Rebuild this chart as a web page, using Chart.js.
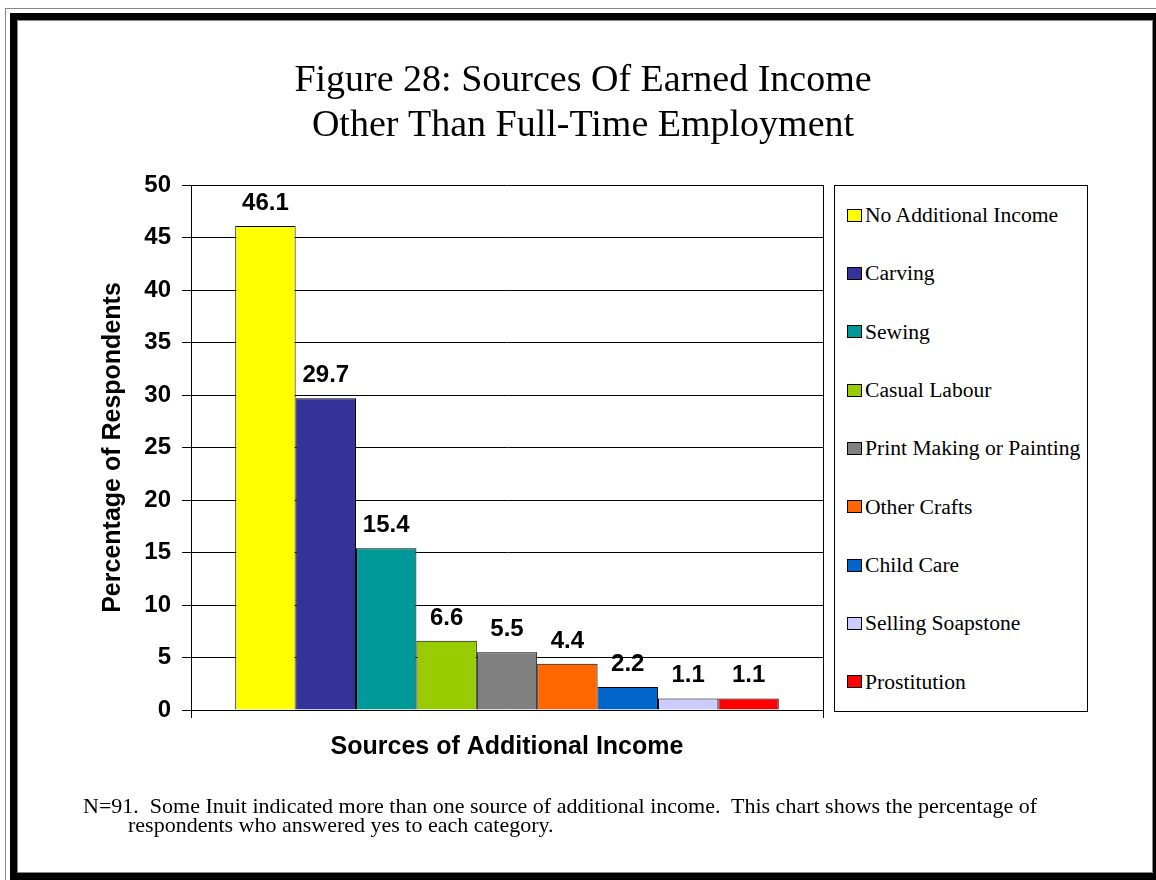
<!DOCTYPE html>
<html>
<head>
<meta charset="utf-8">
<script src="https://cdn.jsdelivr.net/npm/chart.js@4.4.1/dist/chart.umd.min.js"></script>
<style>
  html, body { margin: 0; padding: 0; width: 1156px; height: 880px; overflow: hidden; background: #fff; }
  #myChart { position: absolute; left: 0; top: 0; }
  .frame { position: absolute; box-sizing: border-box; pointer-events: none; }
  #frameOuter { left: 5px; top: 8px; width: 1200px; height: 1000px; border: 1px solid #888; }
  #frameBlack { left: 10px; top: 13px; width: 1150px; height: 867px; border: 7px solid #000; }
  #frameInner { left: 17px; top: 20px; width: 1136px; height: 853px; border: 1px solid #888; }
  #legend {
    position: absolute; left: 834px; top: 185px; width: 254px; height: 527px;
    box-sizing: border-box; border: 1px solid #000; background: #fff;
  }
  #legend ul {
    list-style: none; margin: 0; padding: 0 0 0 12px; height: 100%;
    display: flex; flex-direction: column; justify-content: space-around;
  }
  #legend li {
    display: flex; align-items: center; white-space: nowrap;
    font-family: "Liberation Serif", "Times New Roman", serif; font-size: 21.6px; line-height: 24px; color: #000;
  }
  #legend li span.box {
    display: inline-block; width: 15px; height: 13px; box-sizing: border-box;
    border: 1px solid #000; margin-right: 3px;
  }
  #note {
    position: absolute; left: 83px; top: 796px; white-space: pre;
    font-family: "Liberation Serif", "Times New Roman", serif; font-size: 22px; line-height: 19px; color: #000;
  }
  #note .second { padding-left: 45px; }
</style>
</head>
<body>
<canvas id="myChart" width="1156" height="880"></canvas>
<div id="legend"></div>
<div id="note"><div>N=91.  Some Inuit indicated more than one source of additional income.  This chart shows the percentage of</div><div class="second">respondents who answered yes to each category.</div></div>
<div class="frame" id="frameOuter"></div>
<div class="frame" id="frameBlack"></div>
<div class="frame" id="frameInner"></div>

<script>
// data
var titleLines = ['Figure 28: Sources Of Earned Income', 'Other Than Full-Time Employment'];
var sources = ['No Additional Income', 'Carving', 'Sewing', 'Casual Labour', 'Print Making or Painting',
               'Other Crafts', 'Child Care', 'Selling Soapstone', 'Prostitution'];
var percentages = [46.1, 29.7, 15.4, 6.6, 5.5, 4.4, 2.2, 1.1, 1.1];
var barColours = ['#ffff00', '#333399', '#009999', '#99cc00', '#808080',
                  '#ff6600', '#0066cc', '#ccccff', '#ff0000'];
var categories = [''];
var yMin = 0, yMax = 50, yStep = 5;

var arialBold = { family: '"Liberation Sans", Arial, sans-serif', size: 24, weight: 'bold' };
var arialBoldTitle = { family: '"Liberation Sans", Arial, sans-serif', size: 25, weight: 'bold' };

// one dataset per source so each gets its own legend entry
var datasets = sources.map(function(name, i){
    return {
        label: name,
        data: [percentages[i]],
        backgroundColor: barColours[i],
        borderColor: '#000',
        borderWidth: 1,
        categoryPercentage: 0.86,
        barPercentage: 1
    };
});

// value on top of each bar
var valueLabels = {
    id: 'valueLabels',
    afterDatasetsDraw: function(chart){
        var ctx = chart.ctx;
        ctx.save();
        ctx.font = 'bold 24px "Liberation Sans", Arial, sans-serif';
        ctx.fillStyle = '#000';
        ctx.textAlign = 'center';
        ctx.textBaseline = 'alphabetic';
        chart.data.datasets.forEach(function(ds, i){
            chart.getDatasetMeta(i).data.forEach(function(bar, j){
                ctx.fillText(ds.data[j].toFixed(1), bar.x, bar.y - 16);
            });
        });
        ctx.restore();
    }
};

// html legend built from the chart's datasets
var htmlLegend = {
    id: 'htmlLegend',
    afterUpdate: function(chart){
        var box = document.getElementById('legend');
        var ul = document.createElement('ul');
        chart.data.datasets.forEach(function(ds){
            var li = document.createElement('li');
            var sw = document.createElement('span');
            sw.className = 'box';
            sw.style.background = ds.backgroundColor;
            li.appendChild(sw);
            li.appendChild(document.createTextNode(ds.label));
            ul.appendChild(li);
        });
        box.innerHTML = '';
        box.appendChild(ul);
    }
};

var ctx = document.getElementById('myChart');
var myChart = new Chart(ctx, {
    type: 'bar',
    data: {
        labels: categories,
        datasets: datasets
    },
    plugins: [valueLabels, htmlLegend],
    options: {
        responsive: false,
        animation: false,
        layout: {
            padding: { left: 10, top: 0, right: 0, bottom: 110 }
        },
        plugins: {
            legend: { display: false },
            tooltip: { enabled: false },
            title: {
                display: true,
                text: titleLines,
                color: '#000',
                font: { family: '"Liberation Serif", "Times New Roman", serif', size: 38, weight: 'normal', lineHeight: 1.19 },
                padding: { top: 58, bottom: 36.6 }
            }
        },
        scales: {
            x: {
                ticks: { display: false },
                grid: { display: true, color: '#000', lineWidth: 1, offset: true, tickLength: 8 },
                border: { display: true, color: '#000' },
                title: {
                    display: true,
                    text: 'Sources of Additional Income',
                    color: '#000',
                    font: arialBoldTitle,
                    padding: { top: 0, bottom: 8 }
                },
                afterFit: function(scale){ scale.height = 60; }
            },
            y: {
                min: yMin,
                max: yMax,
                ticks: { stepSize: yStep, color: '#000', font: arialBold, padding: 11 },
                grid: { color: '#000', lineWidth: 1, tickLength: 9 },
                border: { display: true, color: '#000' },
                title: {
                    display: true,
                    text: 'Percentage of Respondents',
                    color: '#000',
                    font: arialBoldTitle,
                    padding: { top: 88, bottom: 0 }
                },
                afterFit: function(scale){ scale.width = 181; }
            },
            // empty right axis: keeps room for the legend box
            y2: {
                position: 'right',
                min: yMin,
                max: yMax,
                ticks: { display: false },
                grid: { display: false },
                border: { display: false },
                afterFit: function(scale){ scale.width = 333; }
            }
        }
    }
});
</script>
</body>
</html>
